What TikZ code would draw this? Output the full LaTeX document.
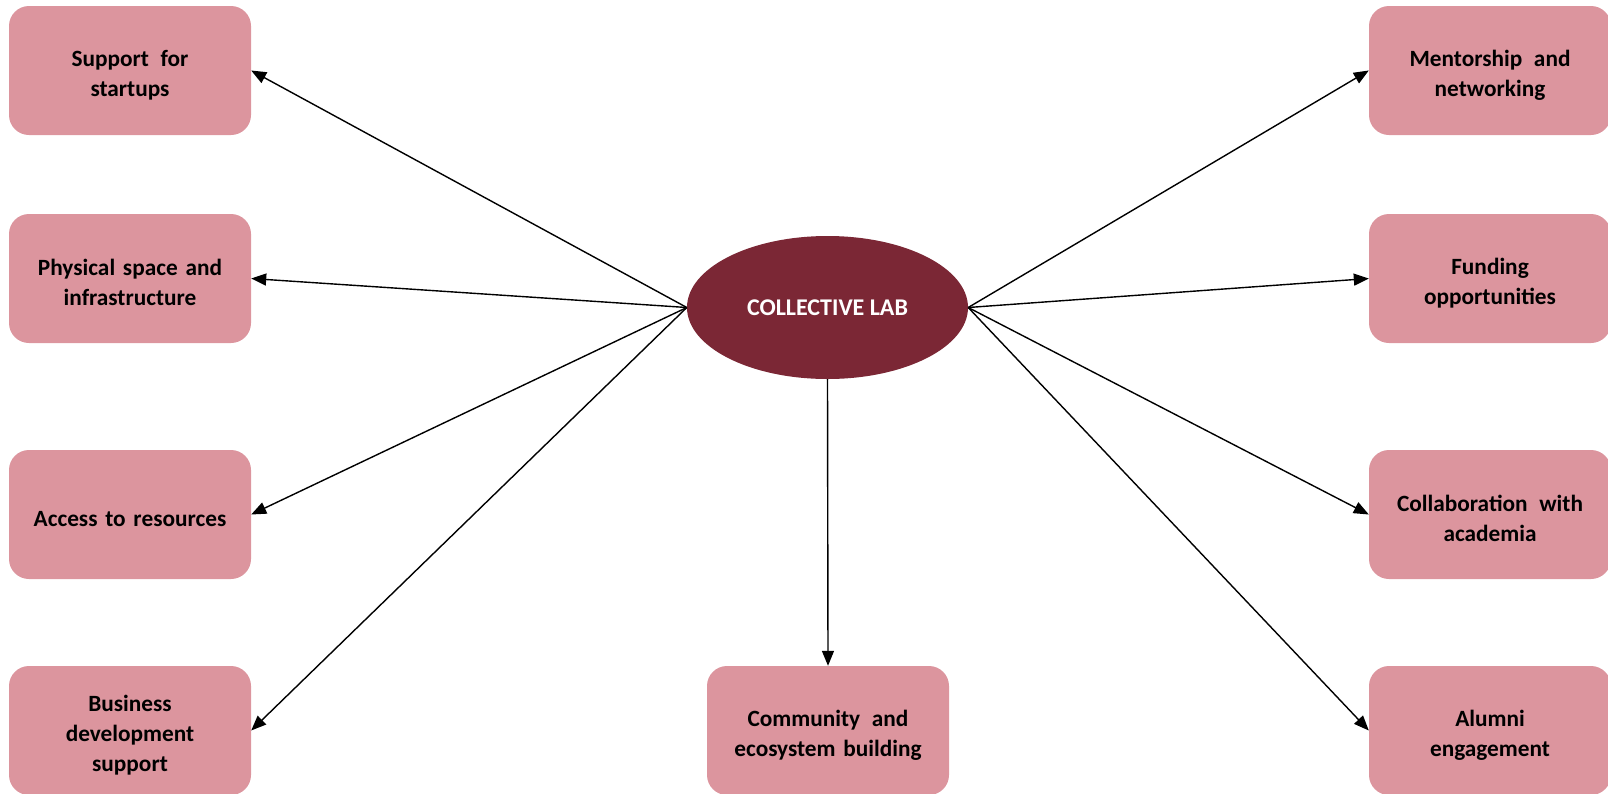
\documentclass[tikz,border=0pt]{standalone}
\usepackage{fontspec}
\setmainfont{Carlito}
\usetikzlibrary{shapes.geometric,arrows.meta}
\definecolor{boxpink}{RGB}{220,149,158}
\definecolor{maroon}{RGB}{123,39,53}
\tikzset{
  box/.style={fill=boxpink, rounded corners=20pt, minimum width=242pt, minimum height=129pt,
    inner sep=4pt, align=center, text width=210pt, font=\fontsize{23.3pt}{30pt}\selectfont\bfseries,
    execute at begin node={\rule{0pt}{25pt}}},
  hub/.style={ellipse, fill=maroon, minimum width=281pt, minimum height=143pt, inner sep=0pt,
    text=white, font=\fontsize{24pt}{30pt}\selectfont\bfseries},
  link/.style={line width=1.4pt, -{Triangle[length=15pt,width=12pt]}}
}
\begin{document}
\begin{tikzpicture}[x=1pt,y=-1pt]
\useasboundingbox (0,0) rectangle (1608,793);
\node[hub] (lab) at (827.5,307.5) {COLLECTIVE LAB};
\node[box] (l1) at (130,70.5) {Support\hspace{0.5em}for\\startups};
\node[box] (l2) at (130,278.5) {Physical space and\\infrastructure};
\node[box] (l3) at (130,514.5) {Access to resources};
\node[box] (l4) at (130,730.5) {Business\\development\\support};
\node[box] (r1) at (1490,70.5) {Mentorship\hspace{0.5em}and\\networking};
\node[box] (r2) at (1490,278.5) {Funding\\opportunities};
\node[box] (r3) at (1490,514.5) {Collaboration\hspace{0.5em}with\\academia};
\node[box] (r4) at (1490,730.5) {Alumni\\engagement};
\node[box] (m) at (828,730.5) {Community\hspace{0.5em}and\\ecosystem building};
\foreach \b in {l1,l2,l3,l4} \draw[link] (lab.west) -- (\b.east);
\foreach \b in {r1,r2,r3,r4} \draw[link] (lab.east) -- (\b.west);
\draw[link] (lab.south) -- (m.north);
\end{tikzpicture}
\end{document}
